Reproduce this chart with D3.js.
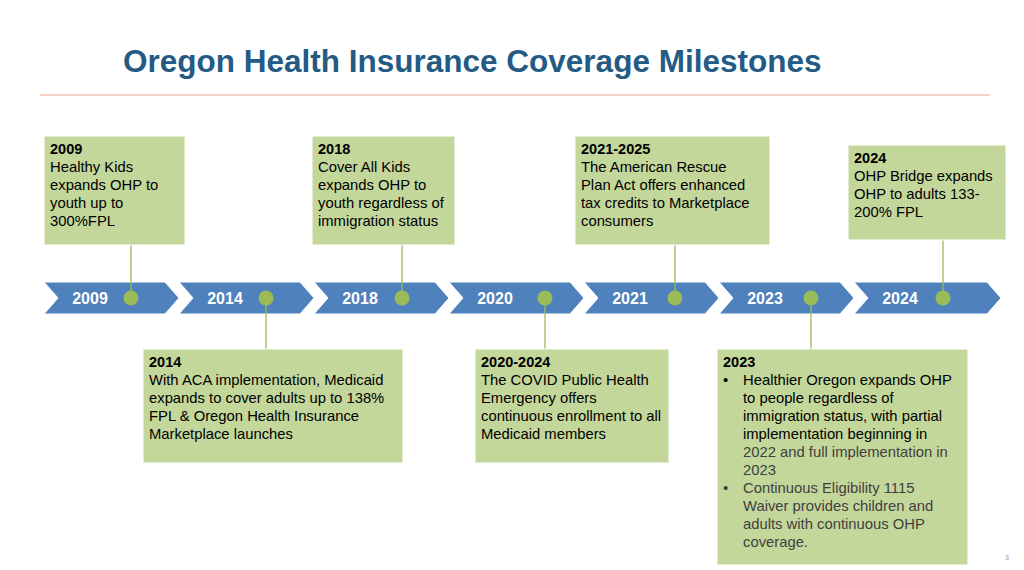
<!DOCTYPE html>
<html lang="en">
<head>
<meta charset="UTF-8">
<title>Oregon Health Insurance Coverage Milestones</title>
<script src="https://d3js.org/d3.v7.min.js"></script>
<style>
  body { margin: 0; background: #fff; }
  text { font-family: "Liberation Sans", Arial, sans-serif; }
</style>
</head>
<body>
<div id="chart-container"></div>
<script>
// timeline segments
const years = ['2009', '2014', '2018', '2020', '2021', '2023', '2024'];

// milestone boxes: which segment, above/below, heading, body lines
const boxYears = ['2009', '2014', '2018', '2020', '2021', '2023', '2024'];
const boxSides = ['top', 'bottom', 'top', 'bottom', 'top', 'bottom', 'top'];
const boxTitles = ['2009', '2014', '2018', '2020-2024', '2021-2025', '2023', '2024'];
const boxLines = [
  ['Healthy Kids', 'expands OHP to', 'youth up to', '300%FPL'],
  ['With ACA implementation, Medicaid', 'expands to cover adults up to 138%', 'FPL & Oregon Health Insurance', 'Marketplace launches'],
  ['Cover All Kids', 'expands OHP to', 'youth regardless of', 'immigration status'],
  ['The COVID Public Health', 'Emergency offers', 'continuous enrollment to all', 'Medicaid members'],
  ['The American Rescue', 'Plan Act offers enhanced', 'tax credits to Marketplace', 'consumers'],
  ['•\tHealthier Oregon expands OHP', '\tto people regardless of', '\timmigration status, with partial', '\timplementation beginning in',
   '~\t2022 and full implementation in', '~\t2023', '~•\tContinuous Eligibility 1115', '~\tWaiver provides children and',
   '~\tadults with continuous OHP', '~\tcoverage.'],
  ['OHP Bridge expands', 'OHP to adults 133-', '200% FPL']
];

const width = 1024, height = 570;
const svg = d3.select('#chart-container').append('svg')
  .attr('width', width).attr('height', height);

// title
svg.append('text').attr('x', 123).attr('y', 72)
  .attr('font-size', 31.5).attr('font-weight', 'bold').attr('fill', '#245b84')
  .text('Oregon Health Insurance Coverage Milestones');
svg.append('line').attr('x1', 40).attr('x2', 990).attr('y1', 95).attr('y2', 95)
  .attr('stroke', '#e8a08c').attr('stroke-width', 1);

const x = d3.scaleBand().domain(years).range([44, 44 + 135 * 7]);
const bandTop = 282, bandBot = 314, mid = (bandTop + bandBot) / 2, tip = 14;

// chevrons
svg.selectAll('path.chev').data(years).enter().append('path')
  .attr('fill', '#4f81bd').attr('stroke', '#fff').attr('stroke-width', 1)
  .attr('d', (d, i) => {
    const x0 = x(d), x1 = x0 + x.bandwidth() + (i === years.length - 1 ? 12 : 0);
    return `M${x0},${bandTop} L${x1 - tip},${bandTop} L${x1},${mid} L${x1 - tip},${bandBot} L${x0},${bandBot} L${x0 + tip},${mid} Z`;
  });
svg.selectAll('text.yr').data(years).enter().append('text')
  .attr('x', d => x(d) + 46).attr('y', mid + 6)
  .attr('text-anchor', 'middle').attr('font-size', 16).attr('font-weight', 'bold')
  .attr('fill', '#fff').text(d => d);

// box geometry (layout only)
const boxGeom = {
  '2009': [44, 136, 141, 109], '2014': [143, 349, 260, 114], '2018': [312, 136, 143, 109],
  '2020': [475, 349, 194, 114], '2021': [575, 136, 195, 109], '2023': [717, 349, 251, 216],
  '2024': [848, 145, 158, 95]
};
const dotOff = [87, 87, 88, 96, 91, 92, 89];
const dotX = d => x(d) + dotOff[years.indexOf(d)];

boxYears.forEach((y, i) => {
  const [bx, by, bw, bh] = boxGeom[y];
  const top = boxSides[i] === 'top';
  svg.append('line').attr('x1', dotX(y)).attr('x2', dotX(y))
    .attr('y1', top ? by + bh : mid).attr('y2', top ? mid : by)
    .attr('stroke', '#9bbb59').attr('stroke-width', 1.3);
  svg.append('rect').attr('x', bx).attr('y', by).attr('width', bw).attr('height', bh)
    .attr('fill', '#c4d79b').attr('stroke', '#fff');
  svg.append('text').attr('x', bx + 6).attr('y', by + 18)
    .attr('font-size', 14.5).attr('font-weight', 'bold').attr('fill', '#000').text(boxTitles[i]);
  boxLines[i].forEach((l, j) => {
    const grey = l.startsWith('~');
    let s = grey ? l.slice(1) : l;
    const bullet = s.startsWith('•');
    const indented = s.includes('\t');
    s = s.replace('•', '').replace('\t', '');
    const ty = by + 36 + j * 18;
    const col = grey ? '#404040' : '#000';
    if (bullet) svg.append('text').attr('x', bx + 6).attr('y', ty).attr('font-size', 14.8).attr('fill', col).text('•');
    svg.append('text').attr('x', bx + (indented ? 26 : 6)).attr('y', ty)
      .attr('font-size', 14.8).attr('fill', col).text(s);
  });
});

// dots
svg.selectAll('circle').data(years).enter().append('circle')
  .attr('cx', dotX).attr('cy', mid).attr('r', 7.5).attr('fill', '#9bbb59');

svg.append('text').attr('x', 1005).attr('y', 560).attr('font-size', 7).attr('fill', '#999').text('3');
</script>
</body>
</html>
